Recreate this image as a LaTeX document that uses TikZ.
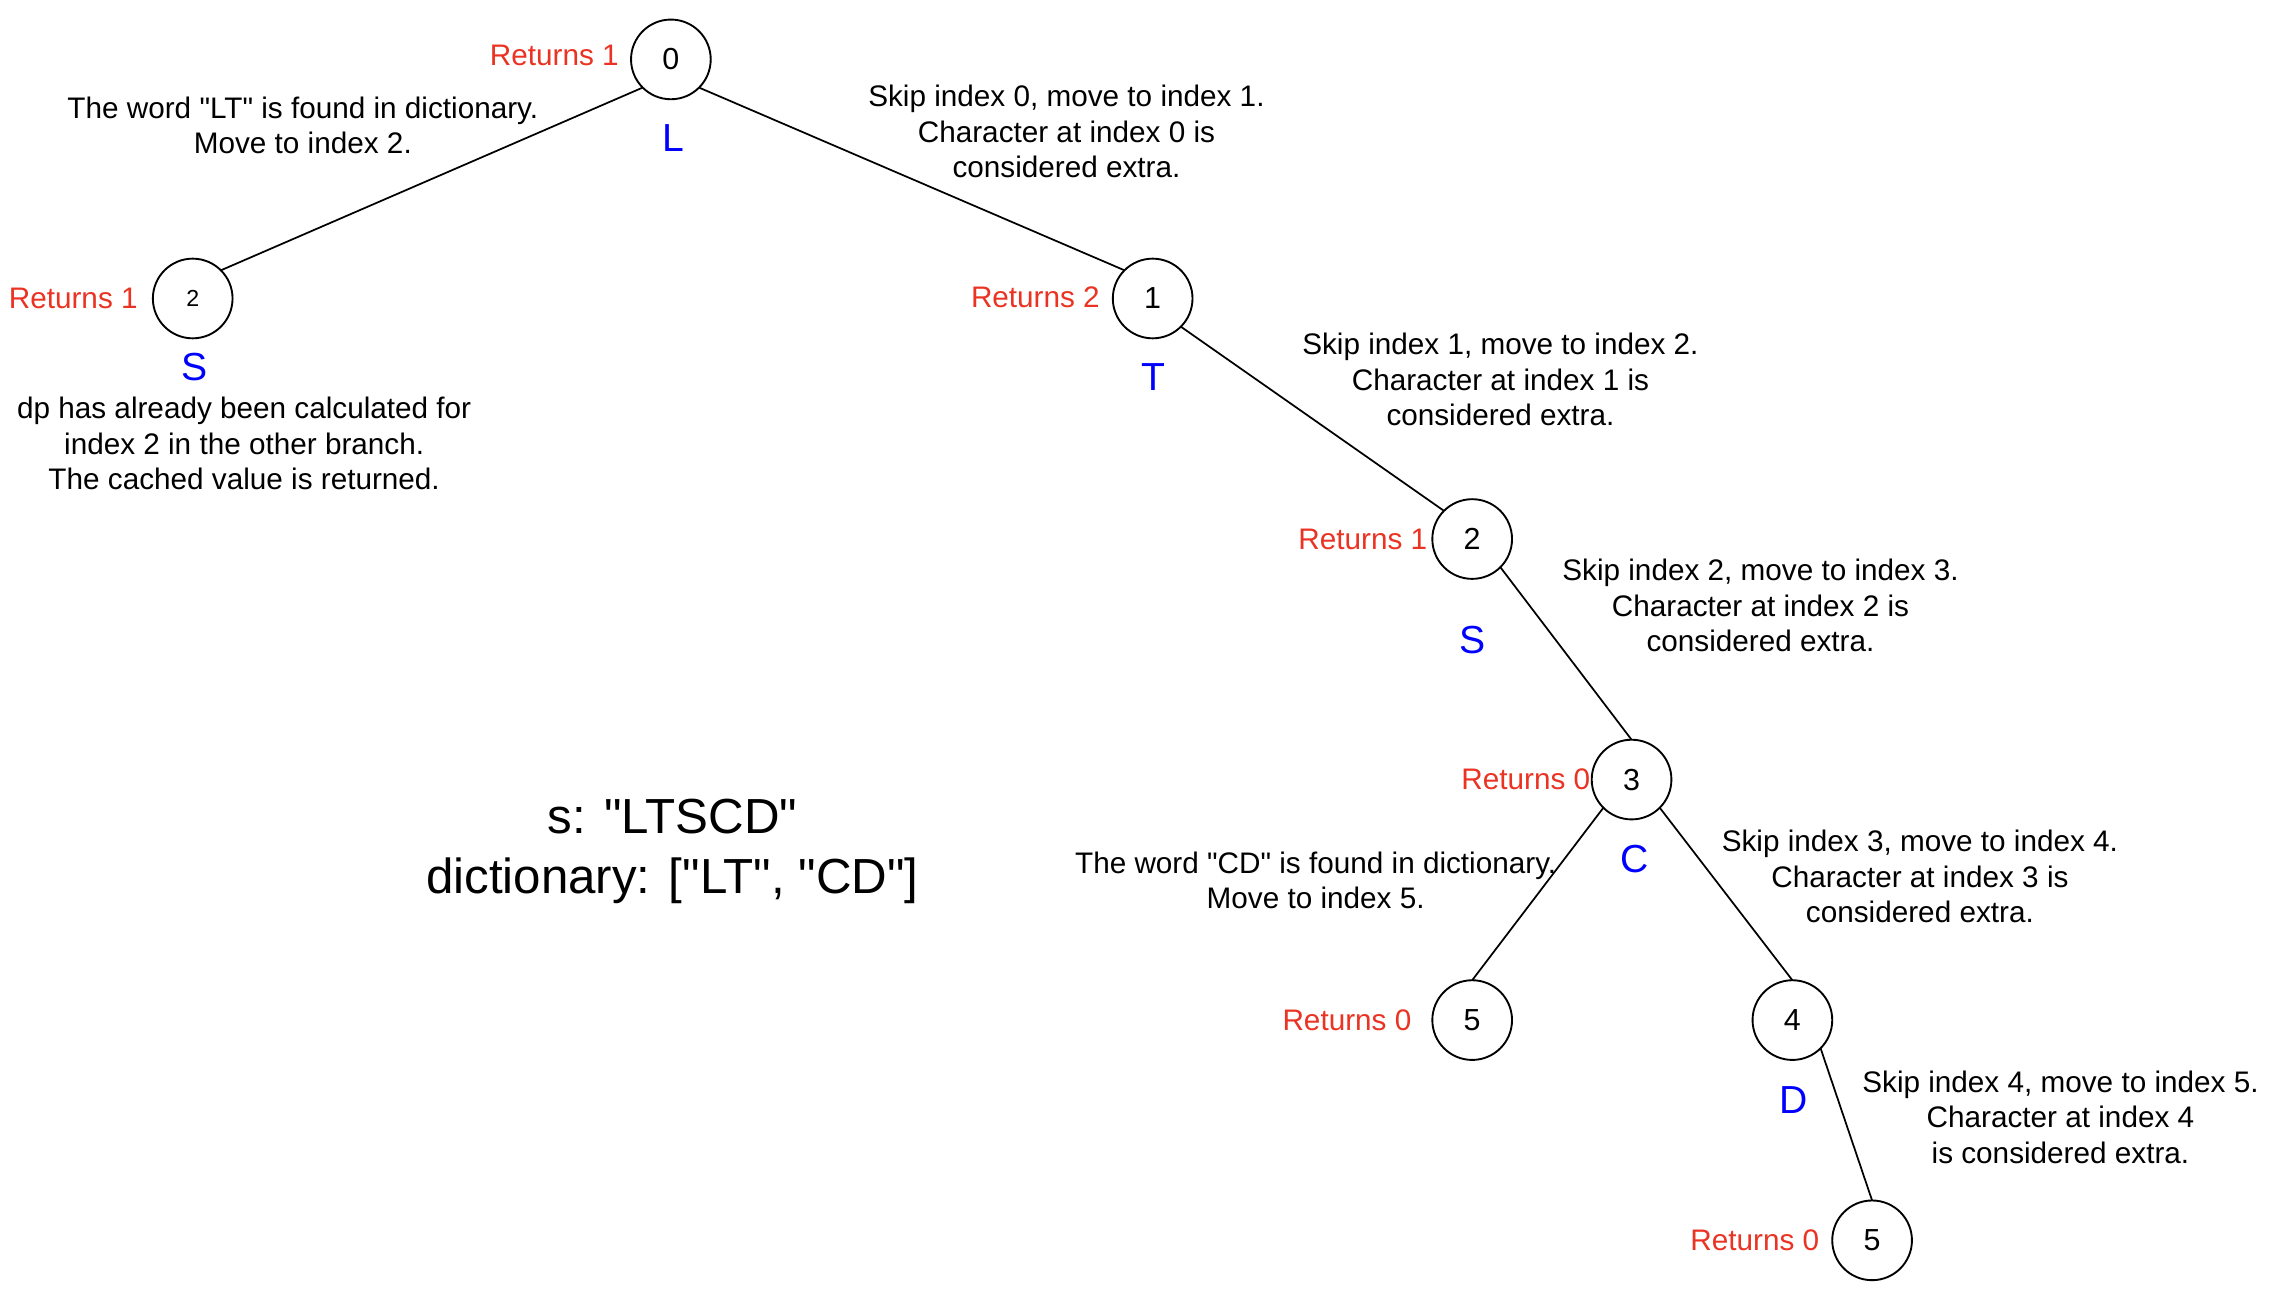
\documentclass[tikz,border=0pt]{standalone}
\usepackage{fontspec}
\setmainfont{Liberation Sans}[Ligatures=TeXOff]
\definecolor{retred}{RGB}{234,51,35}
\newcommand{\dq}{\symbol{34}}
\begin{document}
\begin{tikzpicture}[x=0.5pt,y=-0.5pt,
  every node/.style={inner sep=0pt, outer sep=0pt},
  state/.style={circle, draw, line width=0.65pt, minimum size=27.5pt, font=\fontsize{10.5}{12.25}\selectfont},
  ret/.style={text=retred, anchor=east, font=\fontsize{10.25}{12.25}\selectfont},
  chr/.style={text=blue, font=\fontsize{13.5}{16}\selectfont},
  note/.style={align=center, font=\fontsize{10.25}{12.25}\selectfont},
  link/.style={line width=0.6pt}]
\useasboundingbox (0,0) rectangle (1568,899);

% state nodes
\node[state] (n0) at (463,41) {0};
\node[state, font=\fontsize{8}{10}\selectfont] (n2l) at (133,206) {2};
\node[state] (n1) at (795.5,206) {1};
\node[state] (n2) at (1016,372) {2};
\node[state] (n3) at (1126,538) {3};
\node[state] (n5a) at (1016,704) {5};
\node[state] (n4) at (1237,704) {4};
\node[state] (n5b) at (1292,856) {5};

% connectors
\draw[link] (n0.south west) -- (n2l.north east);
\draw[link] (n0.south east) -- (n1.north west);
\draw[link] (n1.south east) -- (n2.north west);
\draw[link] (n2.south east) -- (n3.north);
\draw[link] (n3.south west) -- (n5a.north);
\draw[link] (n3.south east) -- (n4.north);
\draw[link] (n4.south east) -- (n5b.north);

% return labels
\node[ret] (r0) at (427,38.5) {Returns 1};
\node[ret] (r2l) at (95,206) {Returns 1};
\node[ret] (r1) at (759,205.5) {Returns 2};
\node[ret] (r2) at (985,372) {Returns 1};
\node[ret] (r3) at (1097.5,538) {Returns 0};
\node[ret] (r5a) at (974,704) {Returns 0};
\node[ret] (r5b) at (1255.5,856) {Returns 0};

% characters
\node[chr] (c0) at (465,95.5) {L};
\node[chr] (c2l) at (134.5,253.5) {S};
\node[chr] (c1) at (796,260.5) {T};
\node[chr] (c2) at (1016.5,442) {S};
\node[chr] (c3) at (1128,593) {C};
\node[chr] (c4) at (1238,759) {D};

% notes
\node[note] (t1) at (209,86.5) {The word \dq LT\dq{} is found in dictionary.\\Move to index 2.};
\node[note] (t2) at (736,91) {Skip index 0, move to index 1.\\Character at index 0 is\\considered extra.};
\node[note] (t3) at (1035.5,262) {Skip index 1, move to index 2.\\Character at index 1 is\\considered extra.};
\node[note] (t4) at (1215,418) {Skip index 2, move to index 3.\\Character at index 2 is\\considered extra.};
\node[note] (t5) at (1325,605) {Skip index 3, move to index 4.\\Character at index 3 is\\considered extra.};
\node[note] (t6) at (908,607.5) {The word \dq CD\dq{} is found in dictionary.\\Move to index 5.};
\node[note] (t7) at (1422,771) {Skip index 4, move to index 5.\\Character at index 4\\is considered extra.};
\node[note] (t8) at (168.5,306) {dp has already been calculated for\\index 2 in the other branch.\\The cached value is returned.};
\node[note, font=\fontsize{17}{20.5}\selectfont] (t9) at (464,587.5) {s: \dq LTSCD\dq\\dictionary: [\dq LT\dq, \dq CD\dq]};
\end{tikzpicture}
\end{document}
